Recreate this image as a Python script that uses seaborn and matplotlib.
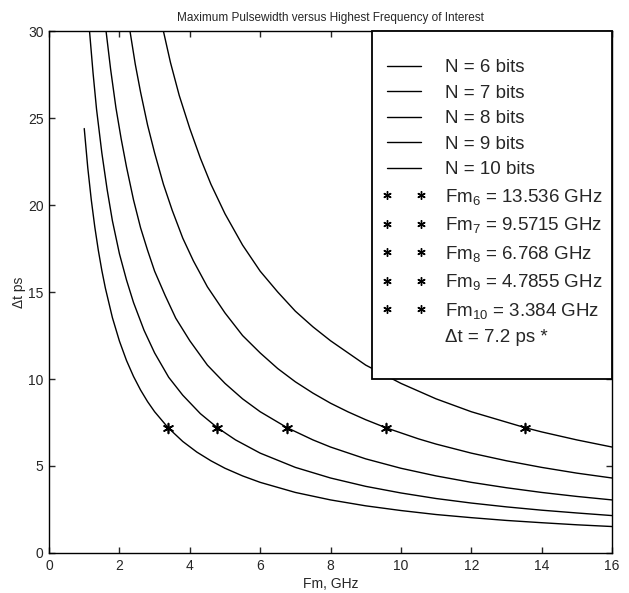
import matplotlib
matplotlib.use("Agg")
import matplotlib.pyplot as plt
from matplotlib.lines import Line2D
import seaborn as sns
import pandas as pd

# bit depth, and the highest frequency of interest for each (GHz)
bits = [6, 7, 8, 9, 10]
fm_marks = [13.536, 9.5715, 6.768, 4.7855, 3.384]
dt_mark = 7.2  # ps

# curves: Fm in GHz, max pulsewidth in ps
fm_n6 = [3.25, 3.45, 3.7, 4.0, 4.3, 4.6, 5.0, 5.5, 6.0, 6.5, 7.0, 7.5, 8.0, 8.5, 9.0, 10, 11, 12, 13.536, 14, 15, 16]
dt_n6 = [30.0, 28.2, 26.3, 24.4, 22.7, 21.2, 19.5, 17.7, 16.2, 15.0, 13.9, 13.0, 12.2, 11.5, 10.8, 9.75, 8.86, 8.12, 7.2, 6.96, 6.50, 6.09]

fm_n7 = [2.3, 2.45, 2.6, 2.8, 3.0, 3.25, 3.5, 3.8, 4.1, 4.5, 5.0, 5.5, 6.0, 6.5, 7.0, 7.5, 8.0, 8.5, 9.0, 9.5715, 10.5, 11, 12, 13, 14, 15, 16]
dt_n7 = [30.0, 28.1, 26.5, 24.6, 23.0, 21.2, 19.7, 18.1, 16.8, 15.3, 13.8, 12.5, 11.5, 10.6, 9.84, 9.19, 8.61, 8.11, 7.66, 7.2, 6.56, 6.26, 5.74, 5.30, 4.92, 4.59, 4.31]

fm_n8 = [1.62, 1.75, 1.9, 2.05, 2.2, 2.4, 2.6, 2.8, 3.0, 3.3, 3.6, 4.0, 4.5, 5.0, 5.5, 6.0, 6.768, 7.5, 8, 9, 10, 11, 12, 13, 14, 15, 16]
dt_n8 = [30.0, 27.8, 25.6, 23.8, 22.2, 20.3, 18.7, 17.4, 16.2, 14.8, 13.5, 12.2, 10.8, 9.75, 8.86, 8.12, 7.2, 6.50, 6.09, 5.41, 4.87, 4.43, 4.06, 3.75, 3.48, 3.25, 3.05]

fm_n9 = [1.15, 1.25, 1.35, 1.5, 1.65, 1.8, 2.0, 2.2, 2.4, 2.7, 3.0, 3.4, 3.8, 4.3, 4.7855, 5.3, 6, 7, 8, 9, 10, 11, 12, 13, 14, 15, 16]
dt_n9 = [30.0, 27.6, 25.5, 23.0, 20.9, 19.1, 17.2, 15.7, 14.4, 12.8, 11.5, 10.1, 9.07, 8.01, 7.2, 6.50, 5.74, 4.92, 4.31, 3.83, 3.45, 3.13, 2.87, 2.65, 2.46, 2.30, 2.15]

fm_n10 = [1.0, 1.1, 1.2, 1.3, 1.4, 1.5, 1.6, 1.8, 2.0, 2.2, 2.4, 2.6, 2.8, 3.0, 3.384, 3.8, 4.2, 4.6, 5.0, 5.5, 6, 7, 8, 9, 10, 11, 12, 13, 14, 15, 16]
dt_n10 = [24.4, 22.15, 20.3, 18.74, 17.4, 16.24, 15.23, 13.53, 12.18, 11.07, 10.15, 9.37, 8.70, 8.12, 7.2, 6.41, 5.80, 5.30, 4.87, 4.43, 4.06, 3.48, 3.05, 2.71, 2.44, 2.21, 2.03, 1.87, 1.74, 1.62, 1.52]

curves_fm = [fm_n6, fm_n7, fm_n8, fm_n9, fm_n10]
curves_dt = [dt_n6, dt_n7, dt_n8, dt_n9, dt_n10]

sns.set_style("ticks")
plt.rcParams["font.family"] = ["Liberation Sans", "DejaVu Sans"]
plt.rcParams["mathtext.fontset"] = "custom"
plt.rcParams["mathtext.rm"] = "Liberation Sans"
plt.rcParams["mathtext.it"] = "Liberation Sans:italic"
plt.rcParams["mathtext.default"] = "regular"

rows = []
for n, fms, dts in zip(bits, curves_fm, curves_dt):
    for f, d in zip(fms, dts):
        rows.append({"N": n, "Fm": f, "dt": d})
df = pd.DataFrame(rows)
marks = pd.DataFrame({"N": bits, "Fm": fm_marks, "dt": [dt_mark] * len(bits)})

fig = plt.figure(figsize=(6.29, 5.93), dpi=100)
ax = fig.add_axes([0.078, 0.0675, 0.895, 0.880])

sns.lineplot(data=df, x="Fm", y="dt", units="N", estimator=None, sort=False,
             color="black", lw=1, legend=False, ax=ax)
star = (6, 2, 0)
sns.scatterplot(data=marks, x="Fm", y="dt", marker=star, s=50, color="black",
                linewidth=1.2, legend=False, ax=ax, zorder=3)

ax.set_xlim(0, 16)
ax.set_ylim(0, 30)
ax.set_xticks(range(0, 17, 2))
ax.set_yticks(range(0, 31, 5))
ax.tick_params(direction="in", length=4, width=1, top=True, right=True,
               labelsize=10, pad=4)
for s in ax.spines.values():
    s.set_linewidth(1)
    s.set_color("black")

ax.set_title("Maximum Pulsewidth versus Highest Frequency of Interest",
             fontsize=8.5, pad=7)
ax.set_xlabel("Fm, GHz", fontsize=10, labelpad=3)
ax.set_ylabel("Δt ps", fontsize=10, labelpad=1)

# legend: line entries, marker entries, a text-only note, then a blank spacer row
handles = [Line2D([], [], color="black", lw=1) for _ in bits]
handles += [Line2D([], [], color="black", ls="none", marker=star, ms=6, mew=1)
            for _ in bits]
handles.append(Line2D([], [], ls="none"))
handles.append(Line2D([], [], ls="none"))
labels = ["N = %d bits" % n for n in bits]
labels += ["Fm$_{%d}$ = %s GHz" % (n, f) for n, f in zip(bits, fm_marks)]
labels.append("Δt = 7.2 ps *")
labels.append(" ")

leg = ax.legend(handles, labels, loc="upper right", bbox_to_anchor=(1, 1),
                borderaxespad=0, numpoints=2, fontsize=13.5, handlelength=2.4,
                handletextpad=1.0, labelspacing=0.45, borderpad=0.5,
                title=" ", title_fontsize=8,
                fancybox=False, edgecolor="black", framealpha=1)
leg.get_frame().set_linewidth(1.3)
leg.get_texts()[-1].set_fontsize(6)

fig.savefig("out.png", dpi=100)
